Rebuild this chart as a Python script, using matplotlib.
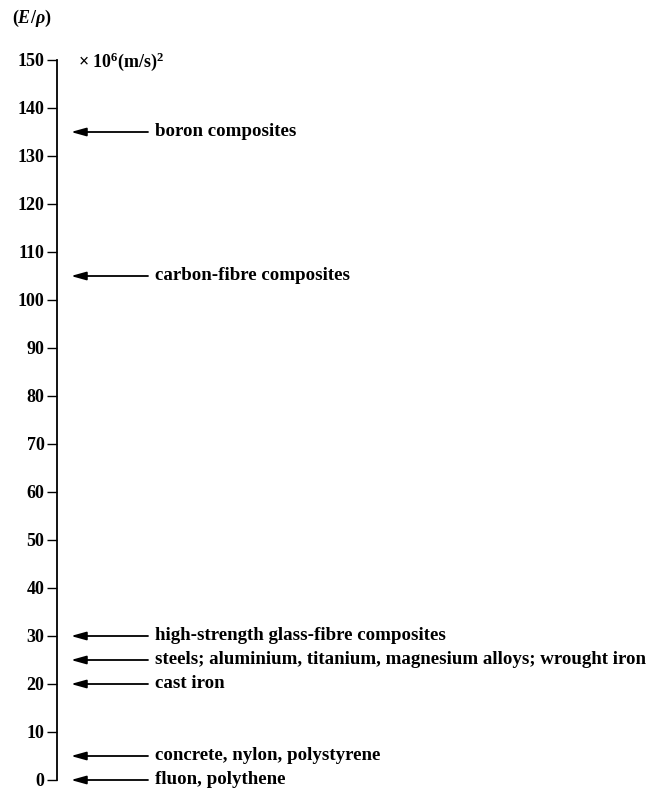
import matplotlib
matplotlib.use("Agg")
import matplotlib.pyplot as plt

materials = [
    "boron composites",
    "carbon-fibre composites",
    "high-strength glass-fibre composites",
    "steels; aluminium, titanium, magnesium alloys; wrought iron",
    "cast iron",
    "concrete, nylon, polystyrene",
    "fluon, polythene",
]
values = [135, 105, 30, 25, 20, 5, 0]
yticks = list(range(0, 151, 10))

plt.rcParams['font.family'] = ['Liberation Serif', 'DejaVu Serif']
plt.rcParams['font.weight'] = 'bold'
plt.rcParams['mathtext.fontset'] = 'custom'
plt.rcParams['mathtext.rm'] = 'Liberation Serif:bold'
plt.rcParams['mathtext.it'] = 'Liberation Serif:italic:bold'
plt.rcParams['mathtext.bf'] = 'Liberation Serif:bold'

fig = plt.figure(figsize=(6.59, 7.90), dpi=100)
W, H = 659, 790
x0, y0, y1 = 57, 780, 60
ax = fig.add_axes([x0 / W, (H - y0) / H, 1 - x0 / W, (y0 - y1) / H])
ax.set_xlim(0, W - x0)
ax.set_ylim(0, 150)
for s in ['top', 'right', 'bottom']:
    ax.spines[s].set_visible(False)
ax.spines['left'].set_linewidth(1.3)
ax.set_xticks([])
ax.set_yticks(yticks)
ax.set_yticklabels([str(t) for t in yticks], fontsize=13)
ax.tick_params(axis='y', direction='out', length=7, width=1.0, pad=2)

for name, v in zip(materials, values):
    ax.annotate("", xy=(14, v), xytext=(91, v),
                arrowprops=dict(arrowstyle="-|>,head_length=0.9,head_width=0.25",
                                lw=1.3, color='black', shrinkA=0, shrinkB=0),
                annotation_clip=False)
    ax.text(98, v, name, fontsize=13.6, va='center', ha='left')

fig.text(12 / W, 1 - 18 / H, r"($\mathit{E/\rho}$)", fontsize=13, va='center', ha='left')
fig.text(78 / W, 1 - 62 / H, r"$\times$ 10$^6$(m/s)$^2$", fontsize=13, va='center', ha='left')

fig.savefig("out.png", dpi=100)
